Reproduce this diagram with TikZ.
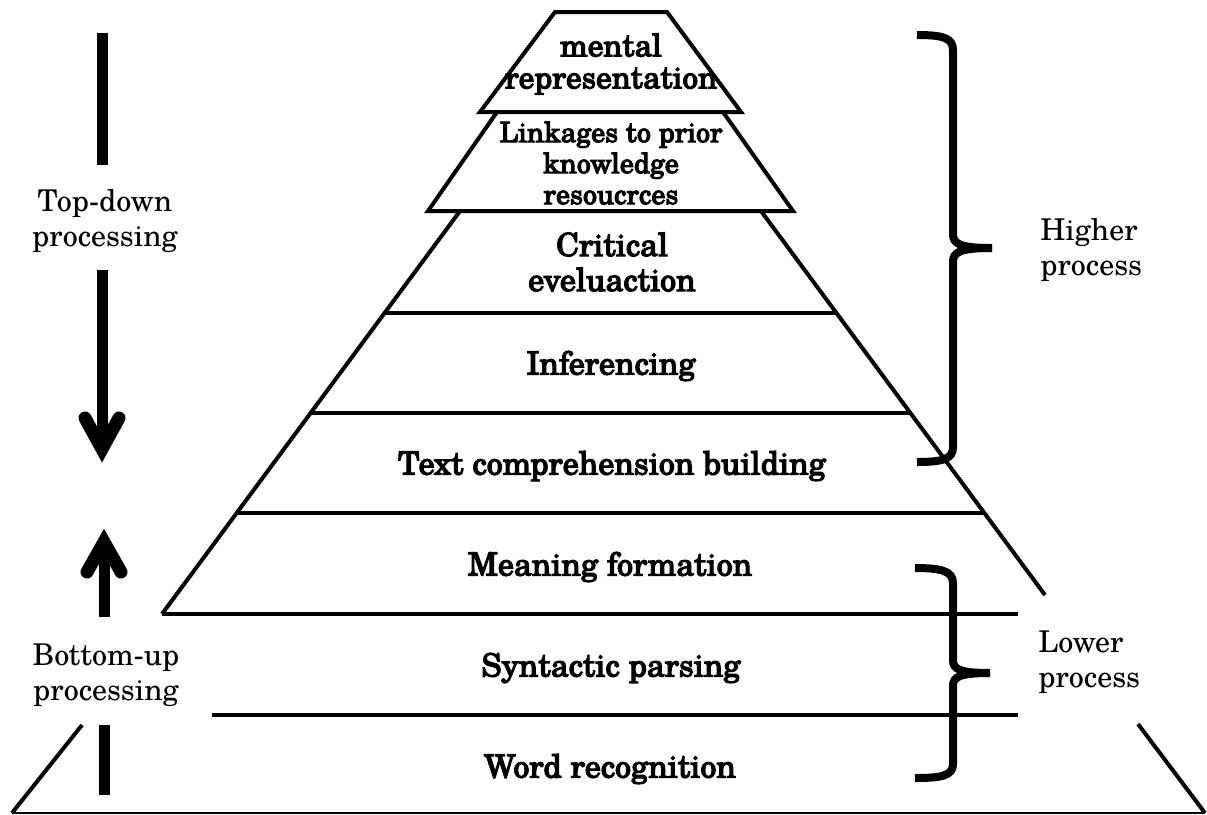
\documentclass[tikz,border=0pt]{standalone}
\usepackage{fontspec}
\setmainfont{texgyreschola}[Extension=.otf, UprightFont=*-regular, BoldFont=*-bold, ItalicFont=*-italic, BoldItalicFont=*-bolditalic]
% a medium weight for the tier labels
\newfontfamily\tierfont{texgyreschola-regular.otf}[FakeBold=3.5, AutoFakeBold=3.5]
\begin{document}
\begin{tikzpicture}[x=0.5pt,y=-0.5pt,
  edge/.style={line width=2pt},
  base/.style={line width=1pt},
  shaft/.style={line width=5.5pt},
  barb/.style={line width=6.5pt, line cap=round, line join=miter},
  brace/.style={line width=4pt},
  tier/.style={inner sep=0pt, align=center, font=\fontsize{16}{17.5}\selectfont\tierfont\bfseries},
  apex/.style={inner sep=0pt, align=center, font=\fontsize{15.6}{16}\selectfont\tierfont\bfseries},
  link/.style={inner sep=0pt, align=center, font=\fontsize{14}{15.5}\selectfont\tierfont\bfseries},
  side/.style={inner sep=0pt, align=center, font=\fontsize{15}{17.5}\selectfont},
  sidel/.style={side, align=left, anchor=west},
]
\useasboundingbox (0,0) rectangle (1207,815);

% apex trapezoid and the band below it
\draw[edge, line join=miter] (555,12) -- (667,12) -- (741,112) -- (480,112) -- cycle;
\draw[edge, line join=miter] (497,112) -- (428,211) -- (793,211) -- (723,112);

% sides of the main pyramid, broken where the lower band is labelled
\draw[edge] (460,211) -- (162,614);
\draw[edge] (761,211) -- (1045,595);
\draw[edge] (82,725) -- (12,813);
\draw[edge] (1138,724) -- (1205,813);

% horizontal dividers
\draw[edge] (384.6,313) -- (836.4,313);
\draw[edge] (310.6,413) -- (910.4,413);
\draw[edge] (236.7,513) -- (984.4,513);
\draw[edge] (162,614) -- (1018,614);
\draw[edge] (212,715) -- (1018,715);
\draw[base] (12,813) -- (1205,813);

% tier labels
\node[apex] (mr) at (611,64) {mental\\representation};
\node[link] (lk) at (611,163) {Linkages to prior\\knowledge\\resoucrces};
\node[tier] (ce) at (612,262) {Critical\\eveluaction};
\node[tier] (inf) at (611,366) {Inferencing};
\node[tier] (tcb) at (612,466) {Text comprehension building};
\node[tier] (mf) at (610,567) {Meaning formation};
\node[tier] (sp) at (611,668) {Syntactic parsing};
\node[tier] (wr) at (610,769) {Word recognition};

% top-down arrow
\coordinate (tdA) at (102,33);
\coordinate (tdB) at (102,165);
\coordinate (tdC) at (102,270);
\coordinate (tdTip) at (102,449);
\draw[shaft] (tdA) -- (tdB);
\node[side] (td) at (105,221) {Top-down\\processing};
\draw[shaft] (tdC) -- (tdTip);
\draw[barb] (85,418) -- (tdTip) -- (119,418);

% bottom-up arrow
\coordinate (buA) at (104,617);
\coordinate (buTip) at (104,542);
\draw[shaft] (buA) -- (buTip);
\draw[barb] (87,572) -- (buTip) -- (121,572);
\node[side] (bu) at (106,675) {Bottom-up\\processing};
\coordinate (buC) at (104,725);
\coordinate (buD) at (104,795);
\draw[shaft] (buC) -- (buD);

% braces
\draw[brace] (917,35) .. controls (943,35) and (953,38) .. (953,50) -- (953,234)
  .. controls (953,244) and (960,248) .. (992,248);
\draw[brace] (992,248) .. controls (960,248) and (953,252) .. (953,262) -- (953,447)
  .. controls (953,459) and (943,462) .. (917,462);
\draw[brace] (915,568) .. controls (941,568) and (953,571) .. (953,583) -- (953,660)
  .. controls (953,669) and (959,673) .. (990,673);
\draw[brace] (990,673) .. controls (959,673) and (953,677) .. (953,686) -- (953,764)
  .. controls (953,776) and (941,778) .. (915,778);

\node[sidel] (hp) at (1040,250) {Higher\\process};
\node[sidel] (lp) at (1038,662) {Lower\\process};
\end{tikzpicture}
\end{document}
